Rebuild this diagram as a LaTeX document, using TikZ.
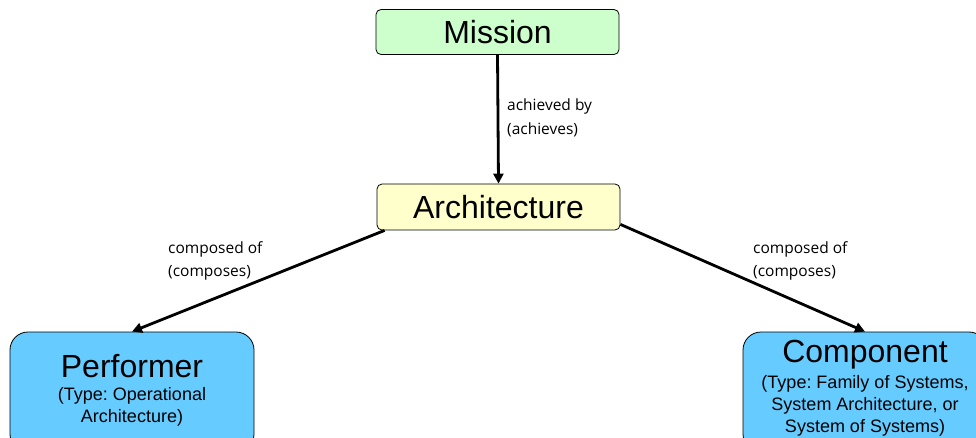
\documentclass[tikz,border=0pt]{standalone}
\usepackage{fontspec}
\setmainfont{Liberation Sans}
\newfontfamily\lblfont{Open Sans}
\usetikzlibrary{arrows.meta}
\definecolor{mgreen}{HTML}{CCFFCC}
\definecolor{ayellow}{HTML}{FFFFCC}
\definecolor{pblue}{HTML}{66CCFF}
\frenchspacing
\begin{document}
\begin{tikzpicture}[x=1pt,y=-1pt,
  box/.style={draw=black, line width=0.8pt, rounded corners=5pt, minimum width=243pt, minimum height=45pt, inner sep=0pt, font=\fontsize{32}{36}\selectfont},
  bigbox/.style={draw=black, line width=0.8pt, rounded corners=18pt, fill=pblue, minimum width=244pt, minimum height=120pt, inner sep=0pt},
  title/.style={inner sep=0pt, font=\fontsize{32}{36}\selectfont},
  sub/.style={inner sep=0pt, align=center, font=\fontsize{18}{22}\selectfont},
  conn/.style={line width=2.8pt, -{Triangle[length=10pt,width=10pt]}},
  lbl/.style={font=\lblfont\fontsize{15.5}{23.5}\selectfont, align=left, inner sep=0pt, anchor=north west}
]
\useasboundingbox (0,0) rectangle (976,438);
\clip (0,0) rectangle (976,438);

\node[box, fill=mgreen] (mission) at (497.5,32) {Mission};
\node[box, fill=ayellow, minimum height=46pt] (arch) at (498.5,207) {Architecture};

\node[bigbox] (perf) at (132,392) {};
\node[title] (perft) at (132,366) {Performer};
\node[sub] (perfs) at (132,407) {(Type: Operational\\Architecture)};

\node[bigbox] (comp) at (865,392) {};
\node[title] (compt) at (865,355) {Component};
\node[sub] (comps) at (865,406) {(Type: Family of Systems,\\System Architecture, or\\System of Systems)};

\draw[conn] (mission.south) -- (arch.north);
\draw[conn] ([xshift=8pt]arch.south west) -- (perf.north);
\draw[conn] ([yshift=6pt]arch.south east) -- (comp.north);

\node[lbl] (l1) at (507,99) {achieved by\\(achieves)};
\node[lbl] (l2) at (168,241) {composed of\\(composes)};
\node[lbl] (l3) at (753,241) {composed of\\(composes)};
\end{tikzpicture}
\end{document}
